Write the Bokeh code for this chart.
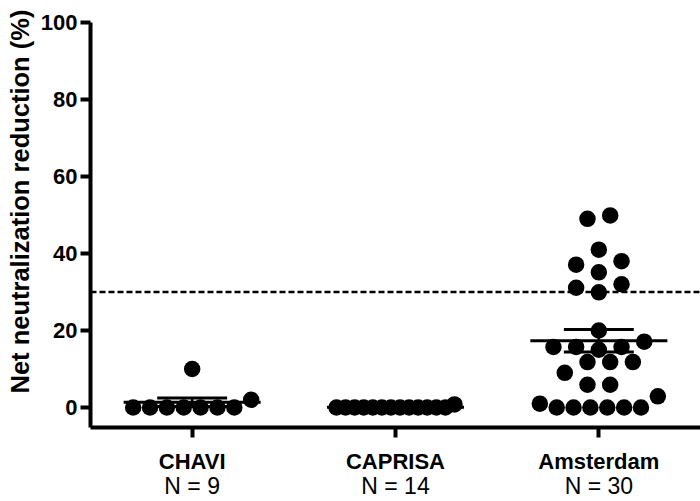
import numpy as np
from bokeh.plotting import figure
from bokeh.models import Range1d, FixedTicker, Span, LinearAxis, Title
from bokeh.embed import file_html
from bokeh.resources import INLINE

# ---- data ----
groups = ["CHAVI", "CAPRISA", "Amsterdam"]
n_labels = ["N = 9", "N = 14", "N = 30"]
chavi = [0, 0, 0, 0, 0, 0, 0, 2.0, 10.0]
caprisa = [0, 0, 0, 0, 0, 0, 0, 0, 0, 0, 0, 0, 0, 0.8]
amsterdam = [0, 0, 0, 0, 0, 0, 1.0, 2.9, 5.9, 5.9, 9.0, 11.8, 11.8, 11.8,
             15.0, 15.7, 15.7, 15.7, 17.1, 20.0, 29.9, 31.1, 32.0, 35.1,
             37.1, 38.0, 41.0, 49.0, 49.9]
group_values = [chavi, caprisa, amsterdam]
threshold = 30
y_ticks = [0, 20, 40, 60, 80, 100]
y_title = "Net neutralization reduction (%)"

# ---- layout ----
W, H = 700, 501
B_LEFT, B_RIGHT, B_TOP, B_BOTTOM = 90, 0, 22, 74
X0, X1 = 0.5, 3.5
Y0, Y1 = -5.2, 100
FONT = "Liberation Sans"
frame_w = W - B_LEFT - B_RIGHT
frame_h = H - B_TOP - B_BOTTOM
px_x = frame_w / (X1 - X0)
px_y = frame_h / (Y1 - Y0)
DOT = 16.5            # marker diameter, px
STEP = 22.7           # natural horizontal spacing inside a row, px
ROW_H = 0.7 * DOT     # values closer than this (px) share a row
HALF_LIMIT = 59.0     # max half width of a group, px


def row_layout(values):
    """Prism-like scatter arrangement: rows of nearby values, centred,
    compressed when too wide, shifted/reordered to avoid overlaps."""
    vals = np.asarray(values, float)
    order = np.argsort(vals, kind="stable")
    ys = vals * px_y
    rows, cur = [], []
    for i in order:
        if cur and ys[i] - ys[cur[0]] >= ROW_H:
            rows.append(cur)
            cur = []
        cur.append(i)
    if cur:
        rows.append(cur)

    xs = np.zeros(len(vals))
    placed = []
    for row in rows:
        n = len(row)
        s = STEP if n == 1 else min(STEP, 2 * HALF_LIMIT / (n - 1))
        slots = (np.arange(n) - (n - 1) / 2) * s
        centre_out = sorted(range(n), key=lambda j: (abs(slots[j]), slots[j]))
        orders = [centre_out, list(range(n)), list(range(n))[::-1]]
        best = None
        for k in range(-4, 5):
            shift = k * s / 2
            if np.max(np.abs(slots + shift)) > HALF_LIMIT + 0.5:
                continue
            for oi, slot_order in enumerate(orders):
                pos = {row[m]: slots[slot_order[m]] + shift for m in range(n)}
                pen = 0.0
                for i, x in pos.items():
                    for (qx, qy) in placed:
                        dist = np.hypot(x - qx, ys[i] - qy)
                        if dist < DOT:
                            pen += (DOT - dist) ** 2
                cost = pen * 1000 + abs(shift) + oi * 0.1
                if best is None or cost < best[0]:
                    best = (cost, pos)
        for i, x in best[1].items():
            xs[i] = x
            placed.append((x, ys[i]))
    return xs


p = figure(width=W, height=H, x_range=Range1d(X0, X1), y_range=Range1d(Y0, Y1),
           output_backend="svg", toolbar_location=None,
           min_border_left=B_LEFT, min_border_right=B_RIGHT,
           min_border_top=B_TOP, min_border_bottom=B_BOTTOM)
p.outline_line_color = None
p.grid.visible = False
p.background_fill_color = "white"
p.border_fill_color = "white"

# main axes
for ax in (p.xaxis[0], p.yaxis[0]):
    ax.axis_line_width = 4
    ax.axis_line_color = "black"
    ax.major_tick_line_width = 4
    ax.major_tick_line_color = "black"
    ax.major_tick_out = 10
    ax.major_tick_in = 0
    ax.minor_tick_line_color = None
    ax.major_label_text_font = FONT
    ax.major_label_text_font_style = "bold"
    ax.major_label_text_font_size = "22px"
    ax.major_label_text_color = "black"

p.yaxis.ticker = FixedTicker(ticks=y_ticks)
p.yaxis.major_label_standoff = 3
p.xaxis.ticker = FixedTicker(ticks=[1, 2, 3])
p.xaxis.major_label_overrides = {i + 1: g for i, g in enumerate(groups)}
p.xaxis.major_label_standoff = 11

# second row of category labels: group sizes
n_axis = LinearAxis(ticker=FixedTicker(ticks=[1, 2, 3]),
                    major_label_overrides={i + 1: n for i, n in enumerate(n_labels)},
                    axis_line_color=None, major_tick_line_color=None,
                    minor_tick_line_color=None, major_tick_out=0, major_tick_in=0,
                    major_label_standoff=-4, major_label_text_font=FONT,
                    major_label_text_font_size="23px", major_label_text_color="black")
p.add_layout(n_axis, "below")

# y title
p.add_layout(Title(text=y_title, align="left", vertical_align="top", offset=34,
                   standoff=4, text_font=FONT, text_font_style="bold",
                   text_font_size="25.5px", text_color="black"), "left")

# threshold line
p.add_layout(Span(location=threshold, dimension="width", line_color="black",
                  line_width=2.5, line_dash="6 3"))

# points
for k, vals in enumerate(group_values):
    c = k + 1
    offs = row_layout(vals) / px_x
    p.scatter(x=c + offs, y=vals, size=DOT, marker="circle",
              fill_color="black", line_color="black", line_width=0)

# mean and SEM
for k, vals in enumerate(group_values):
    c = k + 1
    v = np.asarray(vals, float)
    m = v.mean()
    sem = v.std(ddof=1) / np.sqrt(len(v))
    p.segment(x0=[c - 0.337], x1=[c + 0.337], y0=[m], y1=[m], line_color="black", line_width=3)
    p.segment(x0=[c - 0.172, c - 0.172], x1=[c + 0.172, c + 0.172],
              y0=[m - sem, m + sem], y1=[m - sem, m + sem], line_color="black", line_width=3)
    p.segment(x0=[c], x1=[c], y0=[m - sem], y1=[m + sem], line_color="black", line_width=2.5)

open("out.html", "w").write(file_html(p, INLINE))
